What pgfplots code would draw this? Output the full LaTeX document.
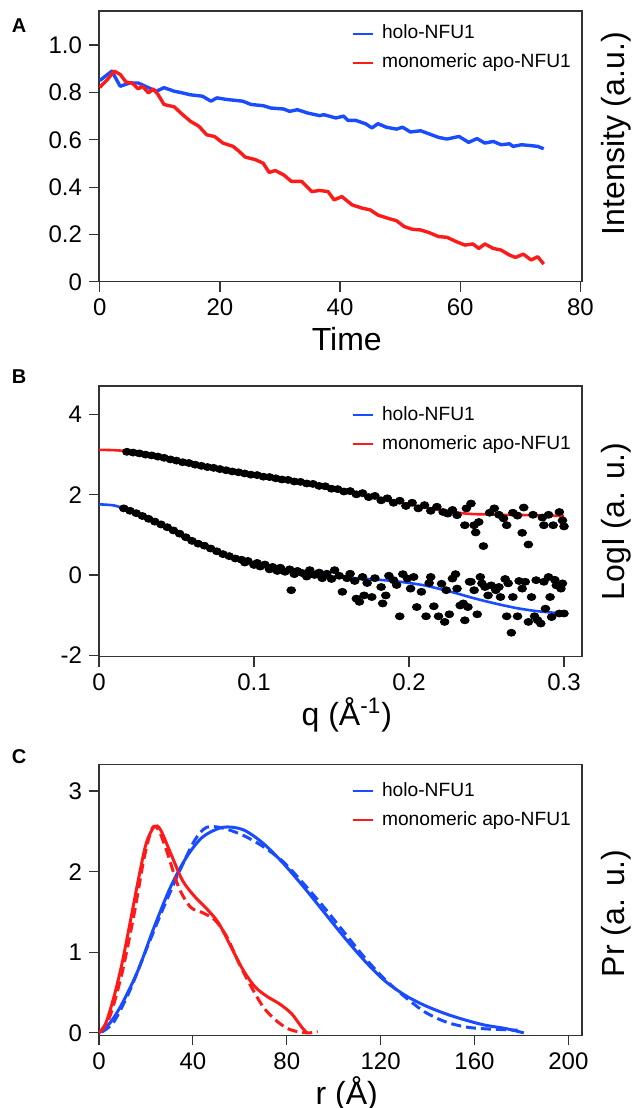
\documentclass[border=0pt]{standalone}
\usepackage{fontspec}
\setmainfont{Liberation Sans}
\usepackage{pgfplots}
\pgfplotsset{compat=1.18}
\definecolor{holo}{HTML}{1A4CFF}
\definecolor{apo}{HTML}{FF1A1A}
\definecolor{frame}{HTML}{333333}

\pgfplotsset{panel/.style={
    scale only axis,width=241.5pt,height=135.4pt,anchor=north west,
    axis line style={frame,line width=0.6pt},
    tick style={frame,line width=0.6pt},
    tick align=outside,tick pos=left,major tick length=5pt,
    tick label style={font=\fontsize{12}{14}\selectfont},
    label style={font=\fontsize{16}{19}\selectfont},
    xlabel style={at={(axis description cs:0.513,-0.255)},anchor=base},
    legend cell align=left,
    legend image code/.code={\draw[#1,line width=1pt,solid] (0pt,0pt) -- (10pt,0pt);},
    legend style={draw=none,fill=none,inner sep=0pt,
      font=\fontsize{9.6}{11}\selectfont,
      nodes={inner sep=0pt,text height=7pt,text depth=2pt},
      row sep=5.5pt,column sep=4pt,anchor=north west}},
  ylabright/.style={ylabel style={at={(axis description cs:#1)},anchor=center}},
  dots/.style={only marks,mark=*,mark size=1.75pt,black,
    mark options={xscale=1.25},forget plot}}

\begin{document}
\begin{tikzpicture}
\useasboundingbox (0,0) rectangle (318pt,-554pt);

% ---- A: intensity vs time
\begin{axis}[panel,at={(49.5pt,-5.5pt)},
    xmin=-0.13,xmax=80.27,ymin=0,ymax=1.144,
    xtick={0,20,40,60,80},ytick={0,0.2,0.4,0.6,0.8,1.0},
    xticklabels={0,20,40,60,80},yticklabels={0,0.2,0.4,0.6,0.8,1.0},
    xlabel={Time},ylabel={Intensity (a.u.)},ylabright={1.07,0.547},
    legend style={at={(axis description cs:0.523,0.951)}}]
  \addplot[holo,line width=1.7pt,line join=round] coordinates {
    (0,0.85) (1,0.87) (2,0.89) (3.4,0.826) (5,0.84) (6.4,0.84) (8.1,0.82)
    (9.4,0.805) (10.7,0.82) (12.4,0.805) (13.4,0.80) (15.1,0.79) (17.1,0.784)
    (18.5,0.763) (19.5,0.777) (21.2,0.77) (23.8,0.763) (25.2,0.749) (27.2,0.744)
    (28.5,0.734) (30.6,0.73) (31.6,0.72) (32.9,0.727) (34.6,0.713) (36.6,0.702)
    (37.3,0.706) (39.3,0.692) (40.6,0.70) (41.3,0.682) (42.6,0.682) (44.3,0.667)
    (45.3,0.65) (46.3,0.668) (47.7,0.653) (49.4,0.645) (50.4,0.653) (51.7,0.633)
    (53.4,0.638) (54.7,0.626) (56.4,0.61) (57.8,0.603) (59.8,0.614) (61.4,0.589)
    (62.8,0.605) (64.1,0.586) (65.5,0.593) (66.8,0.579) (68.2,0.583) (68.8,0.572)
    (70.2,0.579) (71.5,0.576) (72.9,0.572) (73.9,0.562)};
  \addlegendentry{holo-NFU1}
  \addplot[apo,line width=1.7pt,line join=round] coordinates {
    (0,0.82) (0.3,0.83) (1.3,0.855) (2.4,0.89) (3.4,0.876) (4.4,0.843) (5.4,0.84)
    (6.4,0.815) (7.1,0.826) (8.1,0.798) (8.9,0.815) (9.7,0.791) (10.7,0.749)
    (12.4,0.739) (13.8,0.706) (15.1,0.678) (16.5,0.657) (17.8,0.621) (19.1,0.614)
    (20.5,0.586) (22.2,0.572) (23.2,0.551) (24.2,0.527) (25.9,0.516) (27.2,0.501)
    (28.2,0.462) (29.2,0.470) (30.6,0.452) (31.9,0.424) (33.6,0.424) (35.3,0.381)
    (36.6,0.386) (38,0.381) (39,0.346) (40.3,0.360) (42,0.325) (43.7,0.311)
    (45,0.304) (46.3,0.282) (48,0.268) (49.4,0.258) (50.7,0.233) (52,0.222)
    (53.4,0.219) (54.7,0.209) (56.4,0.191) (57.8,0.188) (59.4,0.169) (60.8,0.155)
    (62.1,0.160) (63.1,0.141) (64.1,0.160) (65.5,0.141) (66.8,0.134) (68.2,0.113)
    (69.2,0.103) (70.5,0.117) (71.8,0.092) (72.9,0.106) (73.9,0.075)};
  \addlegendentry{monomeric apo-NFU1}
\end{axis}

% ---- B: scattering curves
\begin{axis}[panel,at={(49.5pt,-193pt)},
    xmin=0,xmax=0.3116,ymin=-2.04,ymax=4.71,
    xtick={0,0.1,0.2,0.3},ytick={-2,0,2,4},
    xticklabels={0,0.1,0.2,0.3},yticklabels={-2,0,2,4},
    xlabel={q (Å\textsuperscript{-1})},ylabel={LogI (a. u.)},ylabright={1.07,0.5},
    legend style={at={(axis description cs:0.523,0.926)}}]
  \addplot[dots] coordinates {
    (0.018,3.07) (0.022,3.05) (0.026,3.03) (0.030,3.00) (0.034,2.98) (0.038,2.95)
    (0.042,2.92) (0.046,2.88) (0.050,2.85) (0.054,2.81) (0.058,2.79) (0.062,2.75)
    (0.066,2.72) (0.070,2.69) (0.074,2.67) (0.078,2.64) (0.082,2.61) (0.086,2.58)
    (0.090,2.56) (0.094,2.53) (0.098,2.50) (0.102,2.49) (0.106,2.45) (0.110,2.44)
    (0.114,2.41) (0.118,2.38) (0.122,2.37) (0.126,2.33) (0.130,2.32) (0.134,2.28)
    (0.138,2.27) (0.142,2.22) (0.146,2.21) (0.150,2.15) (0.154,2.14) (0.158,2.08)
    (0.162,2.09) (0.166,2.01) (0.170,2.04) (0.174,1.94) (0.178,1.97) (0.182,1.86)
    (0.186,1.91) (0.190,1.80) (0.194,1.85) (0.198,1.72) (0.202,1.80) (0.206,1.66)
    (0.210,1.74) (0.214,1.60) (0.218,1.70) (0.222,1.57) (0.225,1.53) (0.228,1.62)
    (0.231,1.49) (0.236,1.24) (0.237,1.66) (0.240,1.78) (0.242,1.24) (0.243,1.06)
    (0.245,1.32) (0.248,0.72) (0.252,1.55) (0.255,1.66) (0.258,1.50) (0.261,1.41)
    (0.263,1.24) (0.267,1.55) (0.270,1.48) (0.273,1.05) (0.274,1.68) (0.277,0.76)
    (0.280,1.50) (0.286,1.43) (0.287,1.24) (0.290,1.50) (0.293,1.24) (0.297,1.57)
    (0.299,1.36) (0.300,1.21)};
  \addplot[dots] coordinates {
    (0.016,1.66) (0.020,1.60) (0.024,1.54) (0.028,1.47) (0.032,1.40) (0.036,1.33)
    (0.040,1.26) (0.044,1.19) (0.048,1.11) (0.052,1.03) (0.056,0.94) (0.060,0.85)
    (0.064,0.78) (0.068,0.73) (0.072,0.66) (0.076,0.59) (0.080,0.52) (0.084,0.47)
    (0.088,0.41) (0.092,0.38) (0.094,0.31) (0.096,0.35) (0.100,0.25) (0.102,0.30)
    (0.104,0.21) (0.107,0.26) (0.110,0.14) (0.112,0.20) (0.115,0.10) (0.117,0.18)
    (0.124,-0.38) (0.120,0.08) (0.123,0.14) (0.126,0.02) (0.128,0.10) (0.131,0.05)
    (0.134,-0.04) (0.136,0.12) (0.139,0.00) (0.142,0.06) (0.144,-0.08) (0.147,0.03)
    (0.150,-0.10) (0.152,0.12) (0.155,-0.02) (0.157,-0.42) (0.160,-0.08) (0.162,0.03)
    (0.165,-0.15) (0.166,-0.59) (0.168,-0.67) (0.170,-0.05) (0.171,-0.51) (0.173,-0.20)
    (0.176,-0.55) (0.178,-0.08) (0.182,-0.30) (0.183,-0.71) (0.185,-0.51) (0.187,-0.02)
    (0.190,-0.13) (0.192,-0.25) (0.194,-1.03) (0.196,0.02) (0.199,-0.09) (0.201,-0.34)
    (0.203,-0.05) (0.205,-0.80) (0.208,-0.42) (0.211,-1.03) (0.213,-0.20) (0.214,-0.05)
    (0.216,-0.78) (0.219,-1.03) (0.221,-0.22) (0.223,-1.17) (0.224,-0.38) (0.226,-0.98)
    (0.228,-0.09) (0.230,0.02) (0.231,-0.34) (0.233,-0.76) (0.235,-0.71) (0.236,-1.13)
    (0.238,-0.80) (0.239,-0.17) (0.240,-0.17) (0.242,-0.38) (0.244,-0.98) (0.246,-0.05)
    (0.247,-0.21) (0.249,-0.30) (0.251,-0.51) (0.253,-0.26) (0.256,-0.38) (0.258,-0.30)
    (0.259,-0.55) (0.262,-0.10) (0.263,-1.03) (0.264,-0.21) (0.266,-1.44) (0.267,-0.55)
    (0.270,-1.03) (0.271,-0.15) (0.273,-0.34) (0.275,-0.17) (0.277,-1.17) (0.279,-0.55)
    (0.281,-1.03) (0.282,-0.13) (0.283,-1.13) (0.285,-1.21) (0.287,-0.17) (0.288,-0.84)
    (0.290,-0.05) (0.291,-0.55) (0.292,-1.05) (0.294,-0.12) (0.295,-0.26) (0.297,-0.96)
    (0.298,-0.34) (0.299,-0.21) (0.300,-0.96)};
  \addplot[holo,line width=1.3pt,smooth] coordinates {
    (0,1.76) (0.01,1.73) (0.02,1.60) (0.03,1.45) (0.04,1.28) (0.05,1.09) (0.06,0.87)
    (0.07,0.71) (0.08,0.54) (0.09,0.41) (0.10,0.30) (0.11,0.19) (0.12,0.10) (0.13,0.04)
    (0.14,-0.01) (0.15,-0.04) (0.16,-0.07) (0.17,-0.09) (0.18,-0.12) (0.19,-0.15)
    (0.20,-0.20) (0.21,-0.26) (0.22,-0.35) (0.23,-0.45) (0.24,-0.56) (0.25,-0.66)
    (0.26,-0.75) (0.27,-0.83) (0.28,-0.89) (0.29,-0.93) (0.30,-0.96)};
  \addlegendentry{holo-NFU1}
  \addplot[apo,line width=1.3pt,smooth] coordinates {
    (0,3.12) (0.01,3.11) (0.02,3.08) (0.03,3.02) (0.04,2.95) (0.05,2.87) (0.06,2.79)
    (0.07,2.72) (0.08,2.65) (0.09,2.58) (0.10,2.52) (0.11,2.46) (0.12,2.41) (0.13,2.35)
    (0.14,2.27) (0.15,2.19) (0.16,2.11) (0.17,2.02) (0.18,1.93) (0.19,1.84) (0.20,1.76)
    (0.21,1.69) (0.22,1.62) (0.23,1.56) (0.24,1.52) (0.25,1.51) (0.26,1.50) (0.28,1.49)
    (0.30,1.47)};
  \addlegendentry{monomeric apo-NFU1}
\end{axis}

% ---- C: pair distance distributions
\begin{axis}[panel,at={(49.5pt,-382.2pt)},
    xmin=0,xmax=205.8,ymin=-0.029,ymax=3.33,
    xtick={0,40,80,120,160,200},ytick={0,1,2,3},
    xticklabels={0,40,80,120,160,200},yticklabels={0,1,2,3},
    xlabel={r (Å)},ylabel={Pr (a. u.)},ylabright={1.07,0.45},
    legend style={at={(axis description cs:0.523,0.935)}}]
  \addplot[holo,line width=1.5pt,smooth] coordinates {
    (0,0) (4.6,0.12) (9.8,0.36) (16.7,0.78) (23.6,1.32) (30.5,1.81) (37.3,2.18)
    (44.2,2.43) (52.8,2.55) (61.4,2.52) (70,2.35) (78.6,2.10) (87.2,1.81)
    (95.8,1.50) (104.4,1.19) (113,0.90) (121.6,0.65) (130.2,0.47) (138.8,0.34)
    (147.4,0.24) (156,0.16) (164.6,0.095) (173.2,0.054) (181,0)};
  \addlegendentry{holo-NFU1}
  \addplot[apo,line width=1.5pt,smooth] coordinates {
    (0,0) (2.9,0.12) (6.4,0.45) (9.8,0.86) (13.2,1.36) (16.7,1.89) (20.1,2.35)
    (23.6,2.56) (26.2,2.52) (30.5,2.23) (35.6,1.89) (40.8,1.69) (45.9,1.54)
    (51,1.36) (56.2,1.07) (61.4,0.78) (66.5,0.57) (71.7,0.45) (76.9,0.36)
    (82,0.24) (86.4,0.07) (88.6,0)};
  \addlegendentry{monomeric apo-NFU1}
  \addplot[holo,line width=1.5pt,smooth,dash pattern=on 5pt off 2.5pt,forget plot]
    coordinates {
    (1.2,0.01) (6.4,0.14) (13.2,0.53) (20.1,1.03) (27,1.52) (33.9,1.98) (40.8,2.39)
    (45.9,2.55) (52.8,2.54) (61.4,2.45) (70,2.31) (78.6,2.12) (87.2,1.85)
    (95.8,1.56) (104.4,1.25) (113,0.94) (121.6,0.67) (130.2,0.45) (138.8,0.26)
    (147.4,0.14) (156,0.074) (164.6,0.05) (178.4,0.033)};
  \addplot[apo,line width=1.5pt,smooth,dash pattern=on 5pt off 2.5pt,forget plot]
    coordinates {
    (0.5,0.01) (4.6,0.2) (9.8,0.74) (15,1.48) (19.3,2.18) (22.7,2.54) (25.3,2.52)
    (28.7,2.27) (33.9,1.81) (39,1.56) (44.2,1.49) (49.4,1.40) (54.5,1.19)
    (59.7,0.86) (64.9,0.57) (70,0.32) (75.2,0.16) (80.3,0.054) (85.5,0.01)
    (89.8,0) (93.2,0.02)};
\end{axis}

\node[font=\fontsize{10}{12}\selectfont\bfseries] at (9.5pt,-13pt) {A};
\node[font=\fontsize{10}{12}\selectfont\bfseries] at (9.5pt,-188.3pt) {B};
\node[font=\fontsize{10}{12}\selectfont\bfseries] at (9.5pt,-378.3pt) {C};
\end{tikzpicture}
\end{document}
